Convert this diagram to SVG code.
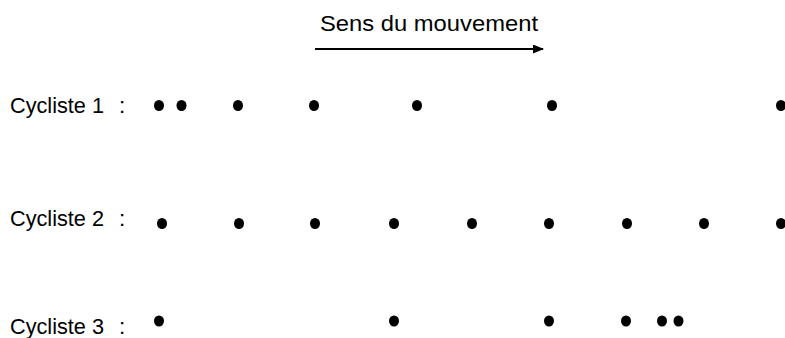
<svg xmlns="http://www.w3.org/2000/svg" width="785" height="338" viewBox="0 0 785 338">
<style>
text{font-family:"Liberation Sans",Arial,sans-serif;fill:#000}
.lab{font-size:22.5px}
.dot{fill:#000}
</style>
<defs>
<marker id="ah" markerWidth="11" markerHeight="9" refX="10" refY="4.5" orient="auto" markerUnits="userSpaceOnUse">
<path d="M0,0 L11,4.5 L0,9 Z" fill="#000"/>
</marker>
</defs>
<rect width="785" height="338" fill="#fff"/>
<g id="title">
<text x="320" y="31" font-size="22" textLength="218" lengthAdjust="spacingAndGlyphs">Sens du mouvement</text>
</g>
<g id="connectors">
<line x1="315" y1="49" x2="543" y2="49" stroke="#000" stroke-width="1.8" marker-end="url(#ah)"/>
</g>
<g id="cycliste1">
<text class="lab" x="10" y="113"><tspan textLength="94" lengthAdjust="spacingAndGlyphs">Cycliste 1</tspan><tspan x="119">:</tspan></text>
<ellipse class="dot" cx="159" cy="105.5" rx="5" ry="5.5"/>
<ellipse class="dot" cx="181.5" cy="105.5" rx="5" ry="5.5"/>
<ellipse class="dot" cx="238" cy="105.5" rx="5" ry="5.5"/>
<ellipse class="dot" cx="314" cy="105.5" rx="5" ry="5.5"/>
<ellipse class="dot" cx="417" cy="105.5" rx="5" ry="5.5"/>
<ellipse class="dot" cx="552" cy="105.5" rx="5" ry="5.5"/>
<ellipse class="dot" cx="781" cy="105.5" rx="5" ry="5.5"/>
</g>
<g id="cycliste2">
<text class="lab" x="10" y="226"><tspan textLength="94" lengthAdjust="spacingAndGlyphs">Cycliste 2</tspan><tspan x="119">:</tspan></text>
<ellipse class="dot" cx="162" cy="223.5" rx="5" ry="5.5"/>
<ellipse class="dot" cx="239" cy="223.5" rx="5" ry="5.5"/>
<ellipse class="dot" cx="315" cy="223.5" rx="5" ry="5.5"/>
<ellipse class="dot" cx="394" cy="223.5" rx="5" ry="5.5"/>
<ellipse class="dot" cx="472" cy="223.5" rx="5" ry="5.5"/>
<ellipse class="dot" cx="549" cy="223.5" rx="5" ry="5.5"/>
<ellipse class="dot" cx="627" cy="223.5" rx="5" ry="5.5"/>
<ellipse class="dot" cx="704" cy="223.5" rx="5" ry="5.5"/>
<ellipse class="dot" cx="781" cy="223.5" rx="5" ry="5.5"/>
</g>
<g id="cycliste3">
<text class="lab" x="10" y="334"><tspan textLength="94" lengthAdjust="spacingAndGlyphs">Cycliste 3</tspan><tspan x="119">:</tspan></text>
<ellipse class="dot" cx="159" cy="321" rx="5" ry="5.5"/>
<ellipse class="dot" cx="394" cy="321" rx="5" ry="5.5"/>
<ellipse class="dot" cx="549" cy="321" rx="5" ry="5.5"/>
<ellipse class="dot" cx="626" cy="321" rx="5" ry="5.5"/>
<ellipse class="dot" cx="662" cy="321" rx="5" ry="5.5"/>
<ellipse class="dot" cx="678.5" cy="321" rx="5" ry="5.5"/>
</g>
</svg>
